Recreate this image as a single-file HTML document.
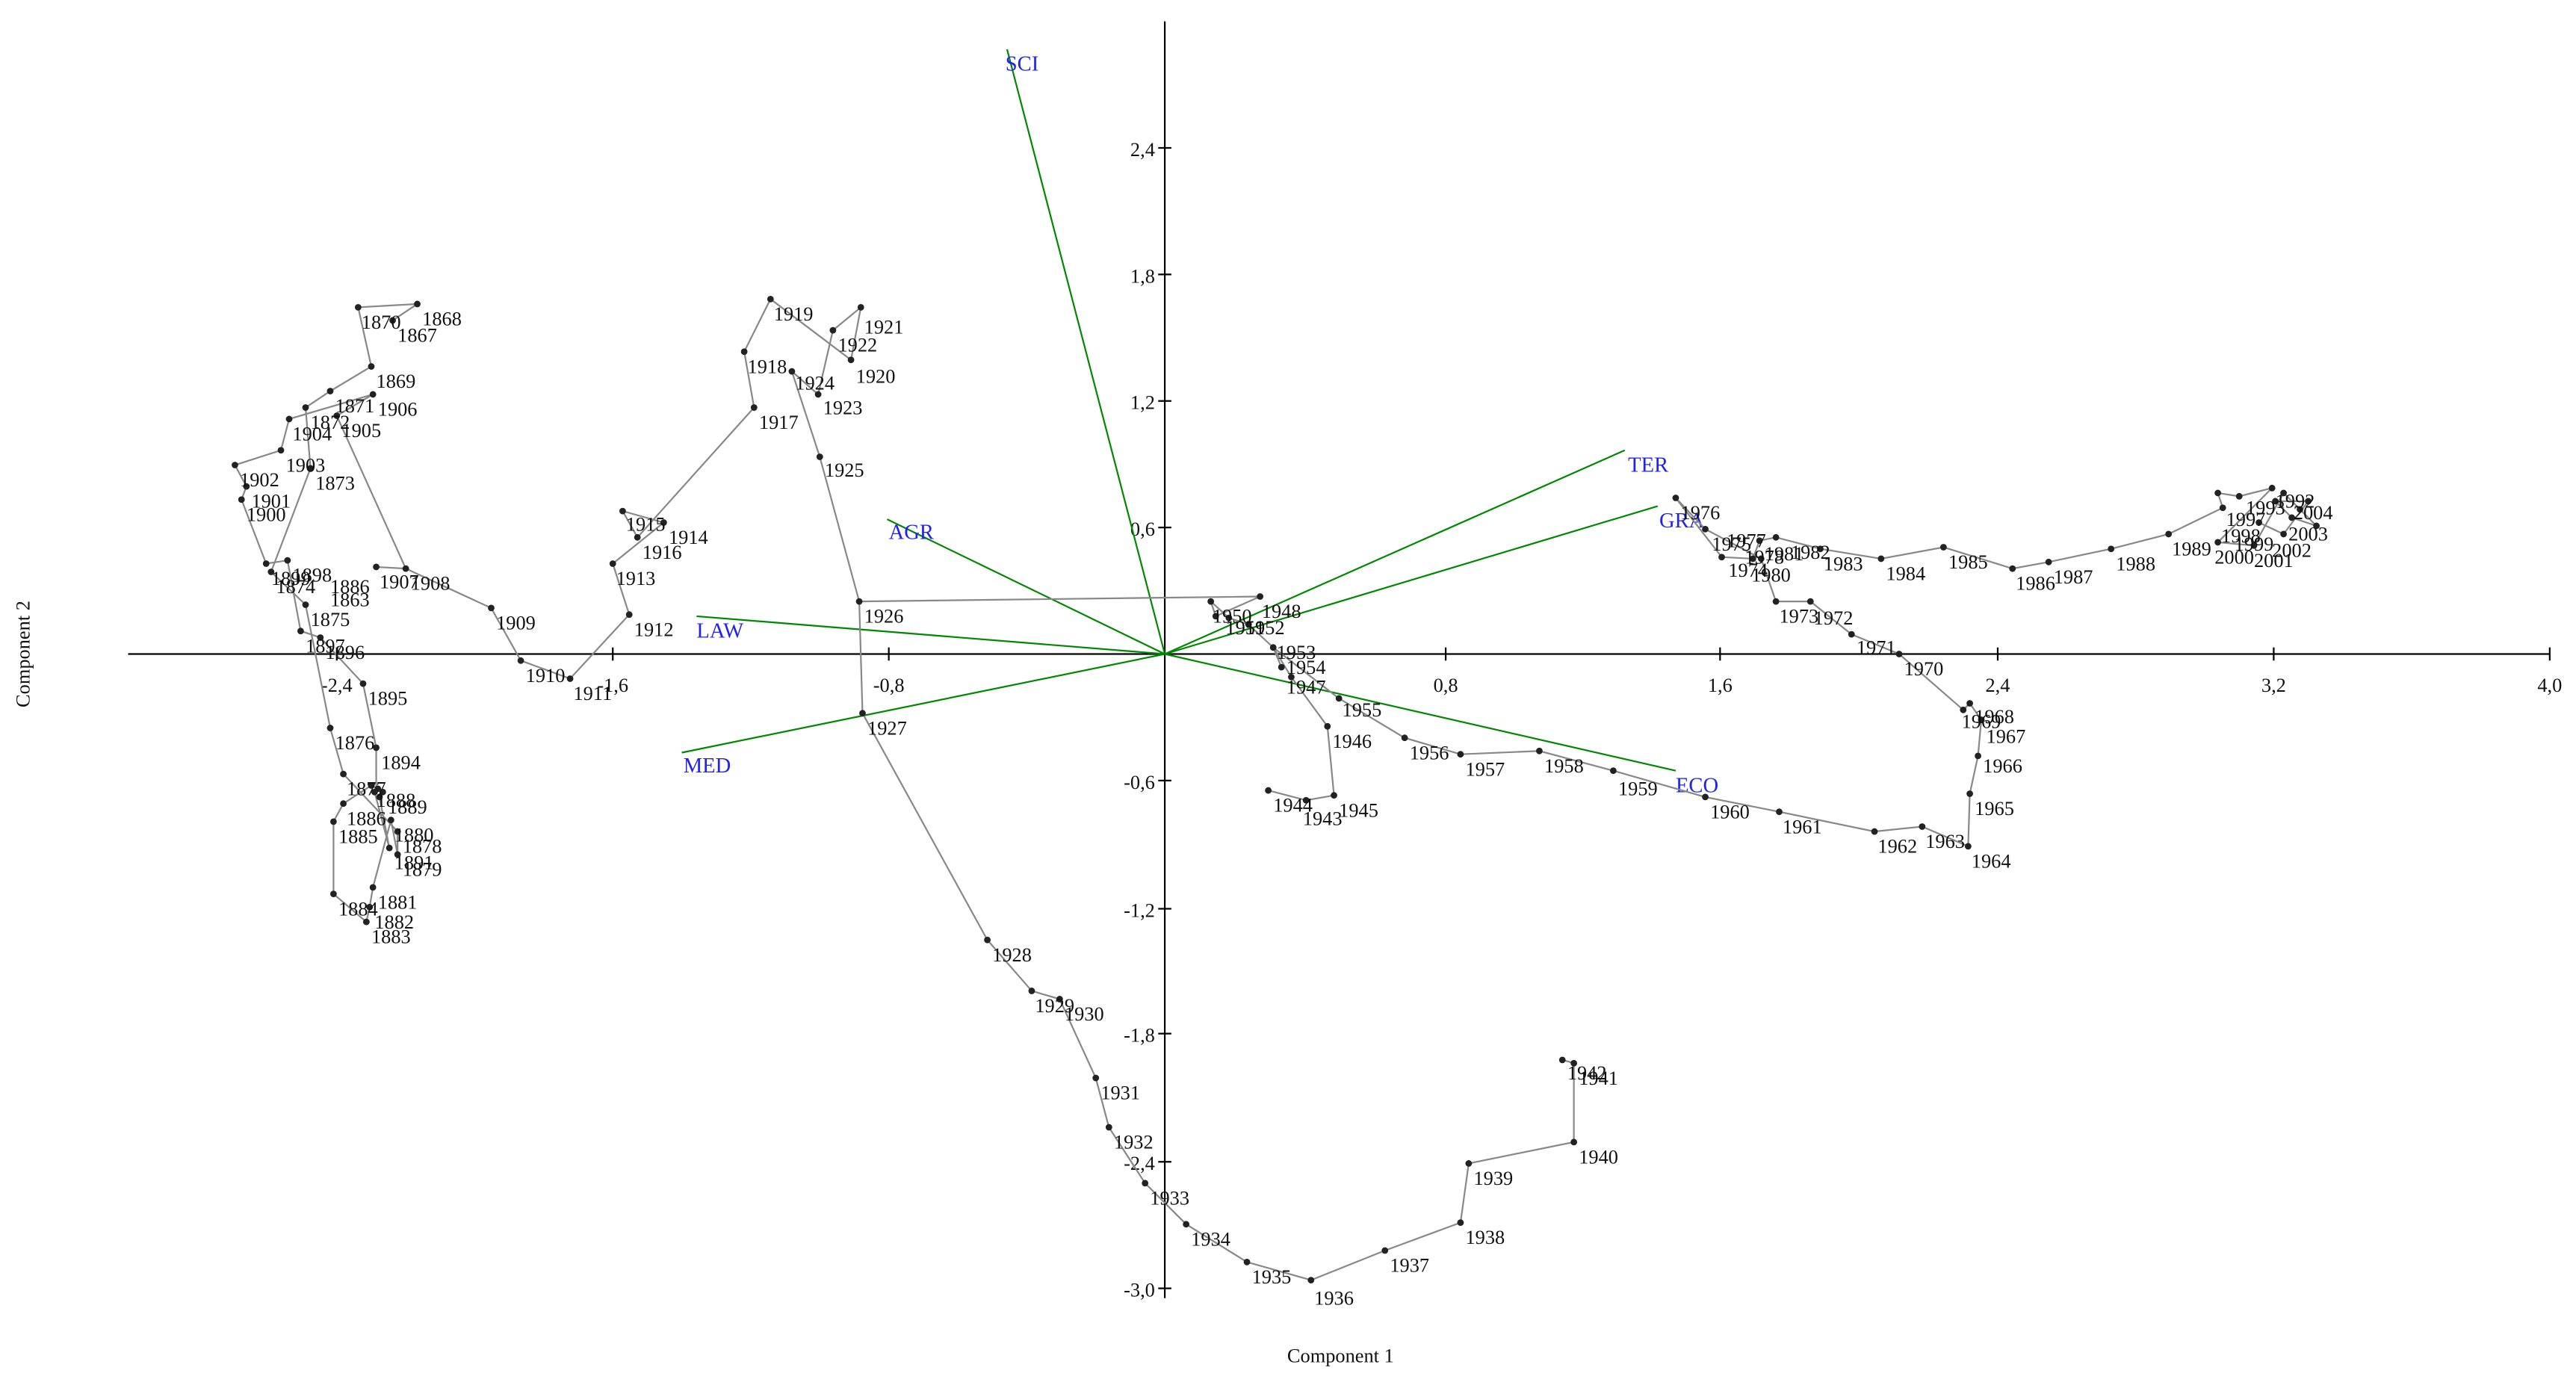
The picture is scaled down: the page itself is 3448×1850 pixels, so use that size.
<!DOCTYPE html>
<html><head><meta charset="utf-8"><style>
html,body{margin:0;padding:0;background:#fff;}
svg{display:block;}
text{font-family:"Liberation Serif",serif;font-size:12px;fill:#111;}
.b{fill:#2222ee;font-size:13px;}
</style></head><body>
<svg width="3448" height="1850" viewBox="0 0 1568 841" preserveAspectRatio="none" xmlns="http://www.w3.org/2000/svg">
<rect width="1568" height="841" fill="#fff"/>
<g stroke="#000" stroke-width="1">
<line x1="78" y1="398" x2="1552" y2="398"/>
<line x1="709" y1="13" x2="709" y2="790"/>
<line x1="205" y1="394" x2="205" y2="402"/><line x1="373" y1="394" x2="373" y2="402"/><line x1="541" y1="394" x2="541" y2="402"/><line x1="880" y1="394" x2="880" y2="402"/><line x1="1047" y1="394" x2="1047" y2="402"/><line x1="1216" y1="394" x2="1216" y2="402"/><line x1="1384" y1="394" x2="1384" y2="402"/><line x1="1552" y1="394" x2="1552" y2="402"/>
<line x1="705" y1="90" x2="713" y2="90"/><line x1="705" y1="167" x2="713" y2="167"/><line x1="705" y1="244" x2="713" y2="244"/><line x1="705" y1="321" x2="713" y2="321"/><line x1="705" y1="475" x2="713" y2="475"/><line x1="705" y1="553" x2="713" y2="553"/><line x1="705" y1="629" x2="713" y2="629"/><line x1="705" y1="707" x2="713" y2="707"/><line x1="705" y1="784" x2="713" y2="784"/>
</g>
<g text-anchor="middle">
<text x="205" y="421">-2,4</text><text x="373" y="421">-1,6</text><text x="541" y="421">-0,8</text><text x="880" y="421">0,8</text><text x="1047" y="421">1,6</text><text x="1216" y="421">2,4</text><text x="1384" y="421">3,2</text><text x="1552" y="421">4,0</text>
</g>
<g text-anchor="end">
<text x="703" y="95">2,4</text><text x="703" y="172">1,8</text><text x="703" y="249">1,2</text><text x="703" y="326">0,6</text><text x="703" y="480">-0,6</text><text x="703" y="558">-1,2</text><text x="703" y="634">-1,8</text><text x="703" y="712">-2,4</text><text x="703" y="789">-3,0</text>
</g>
<text x="816" y="829" text-anchor="middle">Component 1</text>
<text transform="translate(18,398) rotate(-90)" text-anchor="middle">Component 2</text>

<g stroke="#008800" stroke-width="1">
<line x1="709" y1="398" x2="613" y2="30"/>
<line x1="709" y1="398" x2="989" y2="274"/>
<line x1="709" y1="398" x2="1009" y2="308"/>
<line x1="709" y1="398" x2="540" y2="316"/>
<line x1="709" y1="398" x2="424" y2="375"/>
<line x1="709" y1="398" x2="415" y2="458"/>
<line x1="709" y1="398" x2="1020" y2="469"/>
</g>
<text class="b" x="612" y="43">SCI</text><text class="b" x="991" y="287">TER</text><text class="b" x="1010" y="321">GRA</text><text class="b" x="541" y="328">AGR</text><text class="b" x="424" y="388">LAW</text><text class="b" x="416" y="470">MED</text><text class="b" x="1020" y="482">ECO</text>

<g fill="none" stroke="#888" stroke-width="1">
<polyline points="239,195 254,185 218,187 226,223 201,238 186,248 189,285 165,348 186,368 201,443 209,471 242,506 242,520 238,499 227,540 225,552 223,561 203,544 203,500 209,489 226,478 230,480 233,482 231,485 237,516 228,482 229,479 229,455 221,416 195,388 183,384 175,341 162,343 147,304 150,296 143,283 171,274 176,255 227,240 205,253 247,346 299,370 317,402 347,413 383,374 373,343 404,318 379,311 388,327 459,248 453,214 469,182 518,219 524,187 507,201 498,240 482,226 499,278 523,366 525,434 601,572 628,603 645,608 667,656 675,686 697,720 722,745 759,768 798,779 843,761 889,744 894,708 958,695 958,647 951,645"/>
<polyline points="229,345 247,346"/>
<polyline points="523,366 767,363 740,375 737,366 748,376 760,380 775,394 780,406"/>
<polyline points="772,481 795,487 812,484 808,442 786,412 775,394 815,425 855,449 889,459 937,457 982,469 1038,485 1083,494 1141,506 1170,503 1198,515 1199,483 1204,460 1206,438 1199,428 1195,432 1156,398 1127,386 1102,366 1081,366 1072,340 1038,322 1020,303 1048,339 1067,340 1071,329 1081,327 1108,334 1145,340 1183,333 1225,346 1247,342 1285,334 1320,325 1353,309 1350,300 1363,302 1383,297 1350,330 1372,332 1390,300 1400,310 1410,320 1395,315 1385,305 1405,305 1390,325 1375,318"/>
</g>

<g fill="#222">
<circle cx="239" cy="195" r="2"/><circle cx="254" cy="185" r="2"/><circle cx="226" cy="223" r="2"/><circle cx="218" cy="187" r="2"/><circle cx="201" cy="238" r="2"/><circle cx="186" cy="248" r="2"/><circle cx="189" cy="285" r="2"/><circle cx="165" cy="348" r="2"/><circle cx="186" cy="368" r="2"/><circle cx="201" cy="443" r="2"/><circle cx="209" cy="471" r="2"/><circle cx="242" cy="506" r="2"/><circle cx="242" cy="520" r="2"/><circle cx="238" cy="499" r="2"/><circle cx="227" cy="540" r="2"/><circle cx="225" cy="552" r="2"/><circle cx="223" cy="561" r="2"/><circle cx="203" cy="544" r="2"/><circle cx="203" cy="500" r="2"/><circle cx="209" cy="489" r="2"/><circle cx="226" cy="478" r="2"/><circle cx="230" cy="480" r="2"/><circle cx="233" cy="482" r="2"/><circle cx="231" cy="485" r="2"/><circle cx="237" cy="516" r="2"/><circle cx="228" cy="482" r="2"/><circle cx="229" cy="455" r="2"/><circle cx="221" cy="416" r="2"/><circle cx="195" cy="388" r="2"/><circle cx="183" cy="384" r="2"/><circle cx="175" cy="341" r="2"/><circle cx="162" cy="343" r="2"/><circle cx="147" cy="304" r="2"/><circle cx="150" cy="296" r="2"/><circle cx="143" cy="283" r="2"/><circle cx="171" cy="274" r="2"/><circle cx="176" cy="255" r="2"/><circle cx="205" cy="253" r="2"/><circle cx="227" cy="240" r="2"/><circle cx="229" cy="345" r="2"/><circle cx="247" cy="346" r="2"/><circle cx="299" cy="370" r="2"/><circle cx="317" cy="402" r="2"/><circle cx="347" cy="413" r="2"/><circle cx="383" cy="374" r="2"/><circle cx="373" cy="343" r="2"/><circle cx="404" cy="318" r="2"/><circle cx="379" cy="311" r="2"/><circle cx="388" cy="327" r="2"/><circle cx="459" cy="248" r="2"/><circle cx="453" cy="214" r="2"/><circle cx="469" cy="182" r="2"/><circle cx="518" cy="219" r="2"/><circle cx="524" cy="187" r="2"/><circle cx="507" cy="201" r="2"/><circle cx="498" cy="240" r="2"/><circle cx="482" cy="226" r="2"/><circle cx="499" cy="278" r="2"/><circle cx="523" cy="366" r="2"/><circle cx="525" cy="434" r="2"/><circle cx="601" cy="572" r="2"/><circle cx="628" cy="603" r="2"/><circle cx="645" cy="608" r="2"/><circle cx="667" cy="656" r="2"/><circle cx="675" cy="686" r="2"/><circle cx="697" cy="720" r="2"/><circle cx="722" cy="745" r="2"/><circle cx="759" cy="768" r="2"/><circle cx="798" cy="779" r="2"/><circle cx="843" cy="761" r="2"/><circle cx="889" cy="744" r="2"/><circle cx="894" cy="708" r="2"/><circle cx="958" cy="695" r="2"/><circle cx="958" cy="647" r="2"/><circle cx="951" cy="645" r="2"/><circle cx="795" cy="487" r="2"/><circle cx="772" cy="481" r="2"/><circle cx="812" cy="484" r="2"/><circle cx="808" cy="442" r="2"/><circle cx="786" cy="412" r="2"/><circle cx="767" cy="363" r="2"/><circle cx="740" cy="375" r="2"/><circle cx="737" cy="366" r="2"/><circle cx="748" cy="376" r="2"/><circle cx="760" cy="380" r="2"/><circle cx="775" cy="394" r="2"/><circle cx="780" cy="406" r="2"/><circle cx="815" cy="425" r="2"/><circle cx="855" cy="449" r="2"/><circle cx="889" cy="459" r="2"/><circle cx="937" cy="457" r="2"/><circle cx="982" cy="469" r="2"/><circle cx="1038" cy="485" r="2"/><circle cx="1083" cy="494" r="2"/><circle cx="1141" cy="506" r="2"/><circle cx="1170" cy="503" r="2"/><circle cx="1198" cy="515" r="2"/><circle cx="1199" cy="483" r="2"/><circle cx="1204" cy="460" r="2"/><circle cx="1206" cy="438" r="2"/><circle cx="1199" cy="428" r="2"/><circle cx="1195" cy="432" r="2"/><circle cx="1156" cy="398" r="2"/><circle cx="1127" cy="386" r="2"/><circle cx="1102" cy="366" r="2"/><circle cx="1081" cy="366" r="2"/><circle cx="1072" cy="340" r="2"/><circle cx="1038" cy="322" r="2"/><circle cx="1020" cy="303" r="2"/><circle cx="1048" cy="339" r="2"/><circle cx="1067" cy="340" r="2"/><circle cx="1071" cy="329" r="2"/><circle cx="1081" cy="327" r="2"/><circle cx="1108" cy="334" r="2"/><circle cx="1145" cy="340" r="2"/><circle cx="1183" cy="333" r="2"/><circle cx="1225" cy="346" r="2"/><circle cx="1247" cy="342" r="2"/><circle cx="1285" cy="334" r="2"/><circle cx="1320" cy="325" r="2"/><circle cx="1353" cy="309" r="2"/><circle cx="1350" cy="300" r="2"/><circle cx="1363" cy="302" r="2"/><circle cx="1383" cy="297" r="2"/><circle cx="1350" cy="330" r="2"/><circle cx="1372" cy="332" r="2"/><circle cx="1390" cy="300" r="2"/><circle cx="1400" cy="310" r="2"/><circle cx="1410" cy="320" r="2"/><circle cx="1395" cy="315" r="2"/><circle cx="1385" cy="305" r="2"/><circle cx="1405" cy="305" r="2"/><circle cx="1390" cy="325" r="2"/><circle cx="1375" cy="318" r="2"/>
</g>

<g>
<text x="242" y="208">1867</text><text x="257" y="198">1868</text><text x="229" y="236">1869</text><text x="220" y="200">1870</text><text x="204" y="251">1871</text><text x="189" y="261">1872</text><text x="192" y="298">1873</text><text x="168" y="361">1874</text><text x="189" y="381">1875</text><text x="204" y="456">1876</text><text x="211" y="484">1877</text><text x="245" y="519">1878</text><text x="245" y="533">1879</text><text x="240" y="512">1880</text><text x="230" y="553">1881</text><text x="228" y="565">1882</text><text x="226" y="574">1883</text><text x="206" y="557">1884</text><text x="206" y="513">1885</text><text x="211" y="502">1886</text><text x="229" y="491">1888</text><text x="236" y="495">1889</text><text x="240" y="529">1891</text><text x="232" y="468">1894</text><text x="224" y="429">1895</text><text x="198" y="401">1896</text><text x="186" y="397">1897</text><text x="165" y="356">1899</text><text x="178" y="354">1898</text><text x="201" y="361">1886</text><text x="201" y="369">1863</text><text x="150" y="317">1900</text><text x="153" y="309">1901</text><text x="146" y="296">1902</text><text x="174" y="287">1903</text><text x="178" y="268">1904</text><text x="208" y="266">1905</text><text x="230" y="253">1906</text><text x="231" y="358">1907</text><text x="250" y="359">1908</text><text x="302" y="383">1909</text><text x="320" y="415">1910</text><text x="349" y="426">1911</text><text x="386" y="387">1912</text><text x="375" y="356">1913</text><text x="407" y="331">1914</text><text x="381" y="323">1915</text><text x="391" y="340">1916</text><text x="462" y="261">1917</text><text x="455" y="227">1918</text><text x="471" y="195">1919</text><text x="521" y="233">1920</text><text x="526" y="203">1921</text><text x="510" y="214">1922</text><text x="501" y="252">1923</text><text x="484" y="237">1924</text><text x="502" y="290">1925</text><text x="526" y="379">1926</text><text x="528" y="447">1927</text><text x="604" y="585">1928</text><text x="630" y="616">1929</text><text x="648" y="621">1930</text><text x="670" y="669">1931</text><text x="678" y="699">1932</text><text x="700" y="733">1933</text><text x="725" y="758">1934</text><text x="762" y="781">1935</text><text x="800" y="794">1936</text><text x="846" y="774">1937</text><text x="892" y="757">1938</text><text x="897" y="721">1939</text><text x="961" y="708">1940</text><text x="961" y="660">1941</text><text x="954" y="657">1942</text><text x="793" y="502">1943</text><text x="775" y="494">1944</text><text x="815" y="497">1945</text><text x="811" y="455">1946</text><text x="783" y="422">1947</text><text x="768" y="376">1948</text><text x="738" y="379">1950</text><text x="746" y="386">1951</text><text x="758" y="386">1952</text><text x="777" y="401">1953</text><text x="783" y="410">1954</text><text x="817" y="436">1955</text><text x="858" y="462">1956</text><text x="892" y="472">1957</text><text x="940" y="470">1958</text><text x="985" y="484">1959</text><text x="1041" y="498">1960</text><text x="1085" y="507">1961</text><text x="1143" y="519">1962</text><text x="1172" y="516">1963</text><text x="1200" y="528">1964</text><text x="1202" y="496">1965</text><text x="1207" y="470">1966</text><text x="1209" y="452">1967</text><text x="1202" y="440">1968</text><text x="1194" y="443">1969</text><text x="1159" y="411">1970</text><text x="1130" y="398">1971</text><text x="1104" y="380">1972</text><text x="1083" y="379">1973</text><text x="1052" y="351">1974</text><text x="1066" y="354">1980</text><text x="1042" y="335">1975</text><text x="1023" y="316">1976</text><text x="1051" y="333">1977</text><text x="1062" y="343">1978</text><text x="1074" y="341">1981</text><text x="1090" y="340">1982</text><text x="1110" y="347">1983</text><text x="1148" y="353">1984</text><text x="1186" y="346">1985</text><text x="1227" y="359">1986</text><text x="1250" y="355">1987</text><text x="1288" y="347">1988</text><text x="1322" y="338">1989</text><text x="1355" y="320">1997</text><text x="1352" y="330">1998</text><text x="1348" y="343">2000</text><text x="1372" y="345">2001</text><text x="1383" y="339">2002</text><text x="1393" y="329">2003</text><text x="1396" y="316">2004</text><text x="1385" y="309">1992</text><text x="1367" y="313">1993</text><text x="1360" y="335">1999</text>
</g>
</svg>
</body></html>
